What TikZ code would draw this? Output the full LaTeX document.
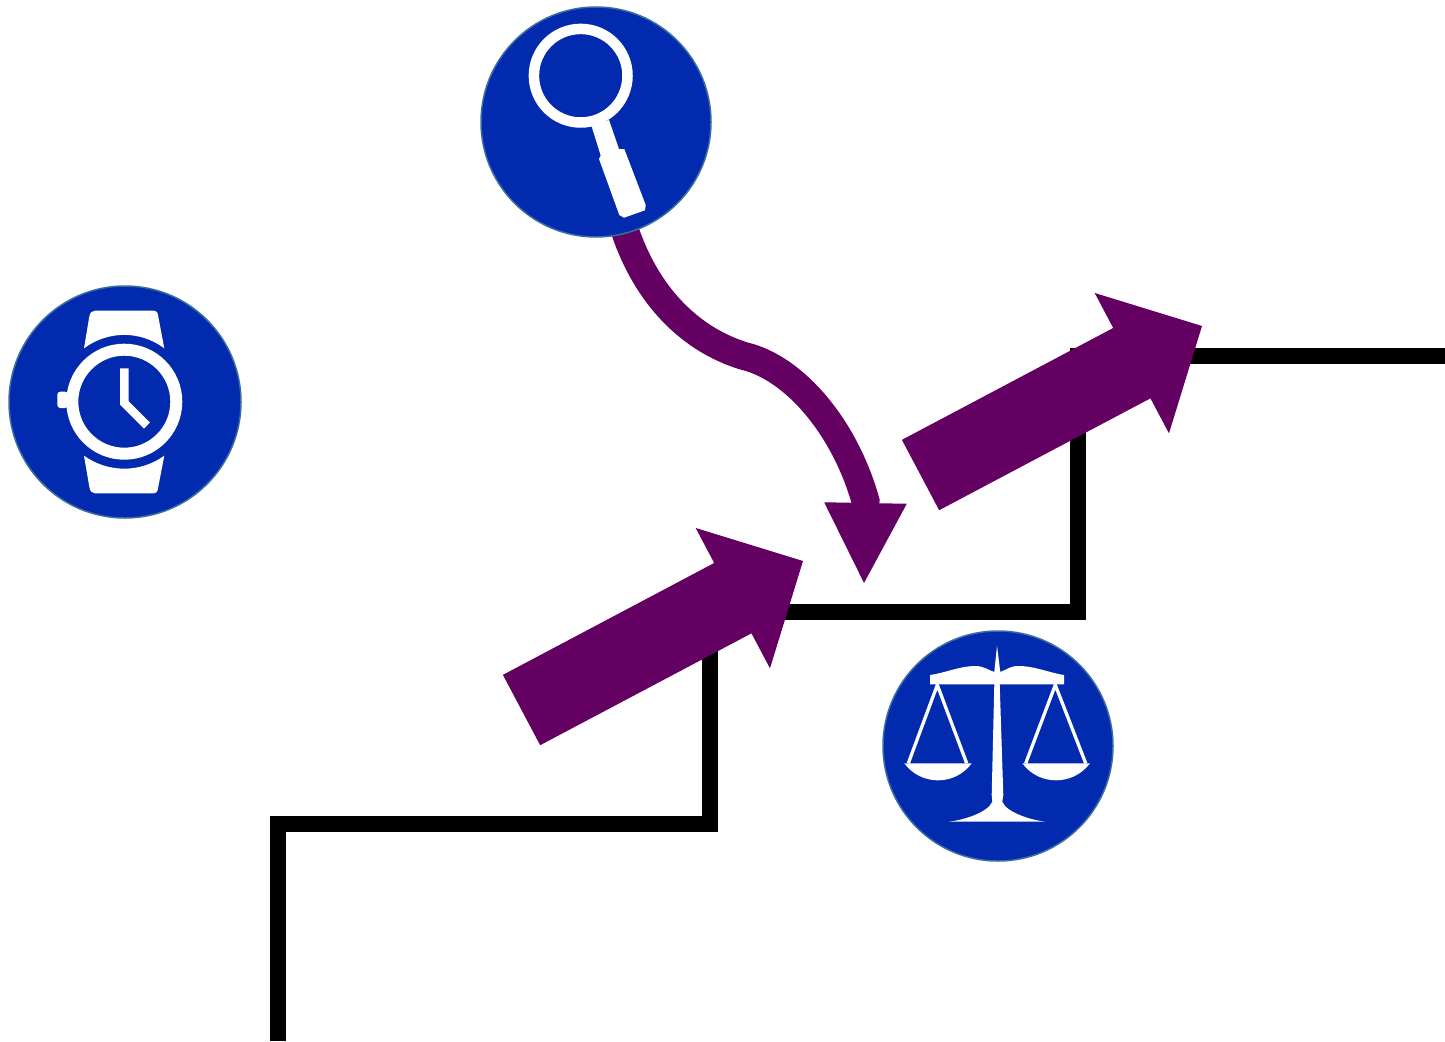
\documentclass[tikz,border=0pt]{standalone}
\usepackage{xcolor}
\usetikzlibrary{arrows.meta, shapes.arrows, backgrounds}
\definecolor{BadgeBlue}{RGB}{2,42,174}
\definecolor{BadgeEdge}{RGB}{58,110,160}
\definecolor{ArrowPurple}{RGB}{99,0,98}
\tikzset{
  % Cerchi e icone
  badge/.style={circle,fill=BadgeBlue,draw=BadgeEdge,line width=1.5,minimum size=230,inner sep=0},
  icon/.style={fill=white,draw=none},
  icon line/.style={draw=white,fill=none,miter limit=10},
  % Frecce
  block arrow/.style={single arrow,fill=ArrowPurple,minimum height=318.5,inner xsep=0,inner ysep=39.6,
    single arrow head extend=39.6,single arrow tip angle=90,outer sep=0,rotate=27.9,anchor=tip},
  connect arrow/.style={draw=ArrowPurple,line width=28,-{Triangle[length=82,width=76]}},
  stair line/.style={draw=black,line width=16,miter limit=10}
}
\begin{document}
\begin{tikzpicture}[x=1pt,y=-1pt]
  \useasboundingbox (0,0) rectangle (1445,1041);
  % Scala
  \draw[stair line] (278,1041)--(278,824)--(710,824)--(710,612)--(1078,612)--(1078,356)--(1445,356);
  % Frecce grandi
  \node[block arrow] (step low) at (803,561) {};
  \node[block arrow] (step high) at (1202,326) {};
  % Cerchi
  \node[badge] (lens) at (596,122) {};
  \node[badge,minimum size=232] (watch) at (125,402) {};
  \node[badge] (scales) at (998,746) {};
  \coordinate (turn) at (744,356);
  \coordinate (neck) at (865.5,501);
  \coordinate (landing) at (864,585);
  \begin{pgfonlayer}{background}
    \draw[connect arrow,shorten <=-6] (lens.-75) .. controls (647,298) and (692,340) .. (turn) .. controls (795,368) and (845,428) .. (neck) -- (landing);
  \end{pgfonlayer}
  % Lente
  \draw[icon line,line width=10.5] (580.7,75.7) circle (46.8);
  \fill[icon] (591.7,126.7)--(609,120)--(619,149)--(624.3,149)--(645.7,205)--(645,210.3)--(624,217.7)--(619.3,215)--(599,159)--(600.7,155.5)--cycle;
  % Orologio
  \draw[icon line,line width=12] (124.3,401.7) circle (52);
  \fill[icon,rounded corners=3] (68,391.7)--(57.3,391.7)--(57.3,408)--(68,408)--cycle;
  \fill[icon] (84,348.3)--(89.3,316.7) .. controls (90,312.5) and (92,310.7) .. (95,310.7)--(153.3,310.7) .. controls (156.5,310.7) and (157.8,312.5) .. (158.3,316.7)--(164.3,348.3) .. controls (140.4,330.4) and (108.2,330.4) .. (84,348.3)--cycle;
  \fill[icon] (84,455.7)--(89.3,486.7) .. controls (90,491.5) and (92,493.3) .. (95,493.3)--(153.3,493.3) .. controls (156.5,493.3) and (157.8,491.5) .. (158.3,486.7)--(164.3,455.7) .. controls (140.4,473) and (108.2,473) .. (84,455.7)--cycle;
  \draw[icon line,line width=8.5] (124.3,368.3)--(124.3,403)--(147,425.5);
  % Bilancia
  \fill[icon] (930,675) .. controls (945,673) and (960,666) .. (975,666) .. controls (984,666) and (988,670) .. (994.3,672)--(997,645.7)--(1000.3,672) .. controls (1006,670) and (1010,666) .. (1018.3,666) .. controls (1035,666) and (1050,673) .. (1064,675)--(1064,684.3)--(999.7,684.3)--(1003.3,795)--(1002.3,801.7) .. controls (1006,812) and (1030,820) .. (1045.7,821.7)--(948.3,821.7) .. controls (965,820) and (988,812) .. (992.3,801.7)--(991.7,795)--(994.3,684.3)--(930,684.3)--cycle;
  \draw[icon line,line width=3.3] (908.3,763.3)--(937.3,685)--(966.7,763.3);
  \fill[icon] (904.3,763.3)--(971.7,763.3) .. controls (955,786) and (921,786) .. (904.3,763.3)--cycle;
  \draw[icon line,line width=3.3] (1025.7,763.3)--(1055.3,685)--(1085.7,763.3);
  \fill[icon] (1022.3,763.3)--(1090,763.3) .. controls (1073,786) and (1039,786) .. (1022.3,763.3)--cycle;
\end{tikzpicture}
\end{document}
